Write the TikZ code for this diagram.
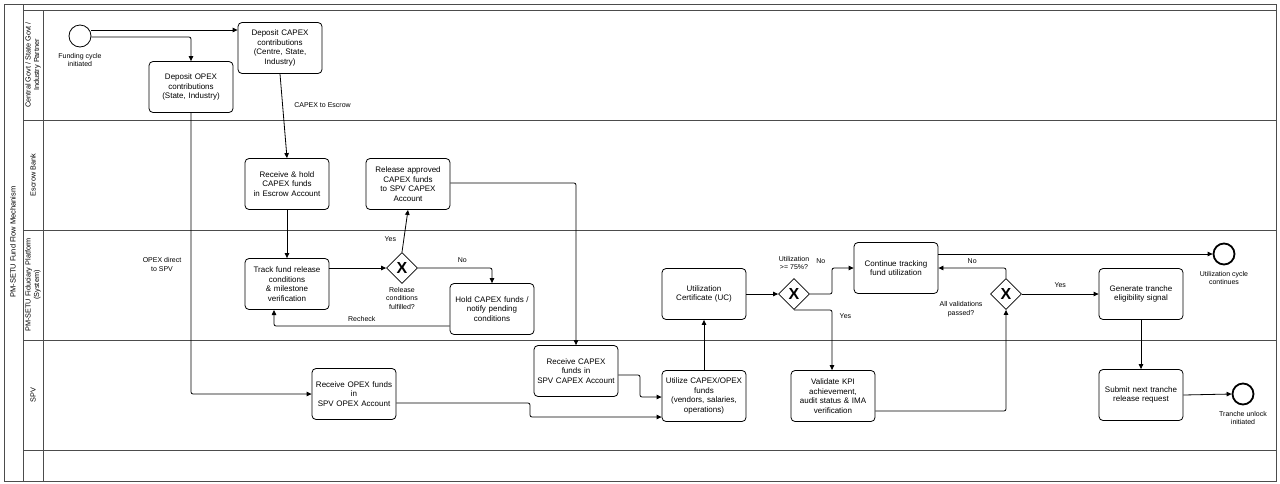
\documentclass[tikz,border=0pt]{standalone}
\usepackage{fontspec}
\setmainfont{Liberation Sans}
\usetikzlibrary{shapes.geometric,arrows.meta,positioning}
\begin{document}
\begin{tikzpicture}[x=1pt,y=-1pt,
 font=\fontsize{8}{9.5}\selectfont,
 task/.style={draw,thick,rounded corners=4pt,align=center,minimum width=84pt,minimum height=51pt,inner sep=1pt,text width=82pt},
 gw/.style={draw,thick,diamond,minimum size=31pt,inner sep=0pt,font=\fontsize{16}{16}\selectfont\bfseries},
 ev/.style={draw,thick,circle,minimum size=22pt,inner sep=0pt},
 evend/.style={draw,line width=1.8pt,circle,minimum size=21pt,inner sep=0pt},
 lbl/.style={align=center,font=\fontsize{7}{8.5}\selectfont},
 flow/.style={thick,-{Triangle[length=5pt,width=4.5pt]},rounded corners=2pt},
 lane/.style={draw=black!70,thick}]
\useasboundingbox (0,0) rectangle (1280,483);
% frame and lanes
\draw[lane] (4,4) rectangle (1276,481);
\draw[lane] (23,4) -- (23,481);
\draw[lane] (43,10) -- (43,481);
\foreach \y in {10,120,230,340,450} \draw[lane] (23,\y) -- (1276,\y);
\node[rotate=90,font=\fontsize{7.5}{9}\selectfont] (title) at (13,242) {PM-SETU Fund Flow Mechanism};
\node[rotate=90,lbl,font=\fontsize{7.3}{8.5}\selectfont] (l1) at (33,65) {Central Govt / State Govt /\\Industry Partner};
\node[rotate=90,lbl,font=\fontsize{7.3}{8.5}\selectfont] (l2) at (33,175) {Escrow Bank};
\node[rotate=90,lbl,font=\fontsize{7.3}{8.5}\selectfont] (l3) at (33,285) {PM-SETU Fiduciary Platform\\(System)};
\node[rotate=90,lbl,font=\fontsize{7.3}{8.5}\selectfont] (l4) at (33,395) {SPV};
% nodes
\node[ev] (start) at (80,36) {};
\node[lbl,below=2pt of start] (startl) {Funding cycle\\initiated};
\node[task] (capex) at (280,48) {Deposit CAPEX\\contributions\\(Centre, State,\\Industry)};
\node[task] (opex) at (191,87) {Deposit OPEX\\contributions\\(State, Industry)};
\node[task] (hold) at (287,184) {Receive \& hold\\CAPEX funds\\in Escrow Account};
\node[task] (rel) at (408,184) {Release approved\\CAPEX funds\\to SPV CAPEX\\Account};
\node[task] (track) at (287,284) {Track fund release\\conditions\\\& milestone\\verification};
\node[gw] (g1) at (402,268) {X};
\node[lbl] (g1l) at (402,298) {Release\\conditions\\fulfilled?};
\node[task] (holdc) at (492,309) {Hold CAPEX funds /\\notify pending\\conditions};
\node[task] (rspv) at (576,371) {Receive CAPEX\\funds in\\SPV CAPEX Account};
\node[task] (ropex) at (354,394) {Receive OPEX funds\\in\\SPV OPEX Account};
\node[task] (util) at (704,396) {Utilize CAPEX/OPEX\\funds\\(vendors, salaries,\\operations)};
\node[task] (uc) at (704,294) {Utilization\\Certificate (UC)};
\node[gw] (g2) at (794,294) {X};
\node[lbl] (g2l) at (794,263) {Utilization\\>= 75\%?};
\node[task] (cont) at (896,268) {Continue tracking\\fund utilization};
\node[task] (val) at (833,396) {Validate KPI\\achievement,\\audit status \& IMA\\verification};
\node[gw] (g3) at (1006,294) {X};
\node[lbl] (g3l) at (961,309) {All validations\\passed?};
\node[task] (gen) at (1141,294) {Generate tranche\\eligibility signal};
\node[task] (sub) at (1141,395) {Submit next tranche\\release request};
\node[evend] (end1) at (1224,254) {};
\node[lbl,below=2pt of end1] (end1l) {Utilization cycle\\continues};
\node[evend] (end2) at (1243,394) {};
\node[lbl,below=2pt of end2] (end2l) {Tranche unlock\\initiated};
% flows
\draw[flow] (start.east |- 0,30) -- (capex.west |- 0,30);
\draw[flow] (start.east |- 0,37) -| (opex.north);
\draw[flow] (capex.south) -- node[lbl,right=8pt,pos=0.37]{CAPEX to Escrow} (hold.north);
\draw[flow] (opex.south) |- node[lbl,pos=0.27,left=6pt]{OPEX direct\\to SPV} (ropex.west);
\draw[flow] (hold.south) -- (track.north);
\draw[flow] (track.east |- g1) -- (g1.west);
\draw[flow] (g1.north) -- node[lbl,pos=0.3,left=4pt]{Yes} (rel.south);
\draw[flow] (g1.east) -| node[lbl,pos=0.3,above=2pt]{No} (holdc.north);
\draw[flow] (holdc.west |- 0,326) -| node[lbl,pos=0.25,above=1pt]{Recheck} (274,310);
\draw[flow] (rel.east |- 0,183) -| (rspv.north);
\draw[flow] (rspv.east |- 0,375) -- (640,375) -- (640,397) -- (util.west |- 0,397);
\draw[flow] (ropex.east |- 0,403) -- (530,403) -- (530,417) -- (util.west |- 0,417);
\draw[flow] (util.north) -- (uc.south);
\draw[flow] (uc.east) -- (g2.west);
\draw[flow] (g2.east) -- (832,294) -- (832,268) node[lbl,pos=1,above left=1pt and 3pt]{No} -- (cont.west);
\draw[flow] (g2.south) -- (832,310) -- node[lbl,pos=0.1,right=4pt]{Yes} (val.north -| 832,0);
\draw[flow] (val.east |- 0,411) -| (g3.south);
\draw[flow] (g3.north) |- node[lbl,pos=0.75,above=1pt]{No} (cont.east |- 0,268);
\draw[flow] (g3.east) -- node[lbl,above=3pt]{Yes} (gen.west);
\draw[flow] (gen.south) -- (sub.north);
\draw[flow] (sub.east) -- (end2.west);
\draw[flow] (cont.east |- end1) -- (end1.west);
\end{tikzpicture}
\end{document}
